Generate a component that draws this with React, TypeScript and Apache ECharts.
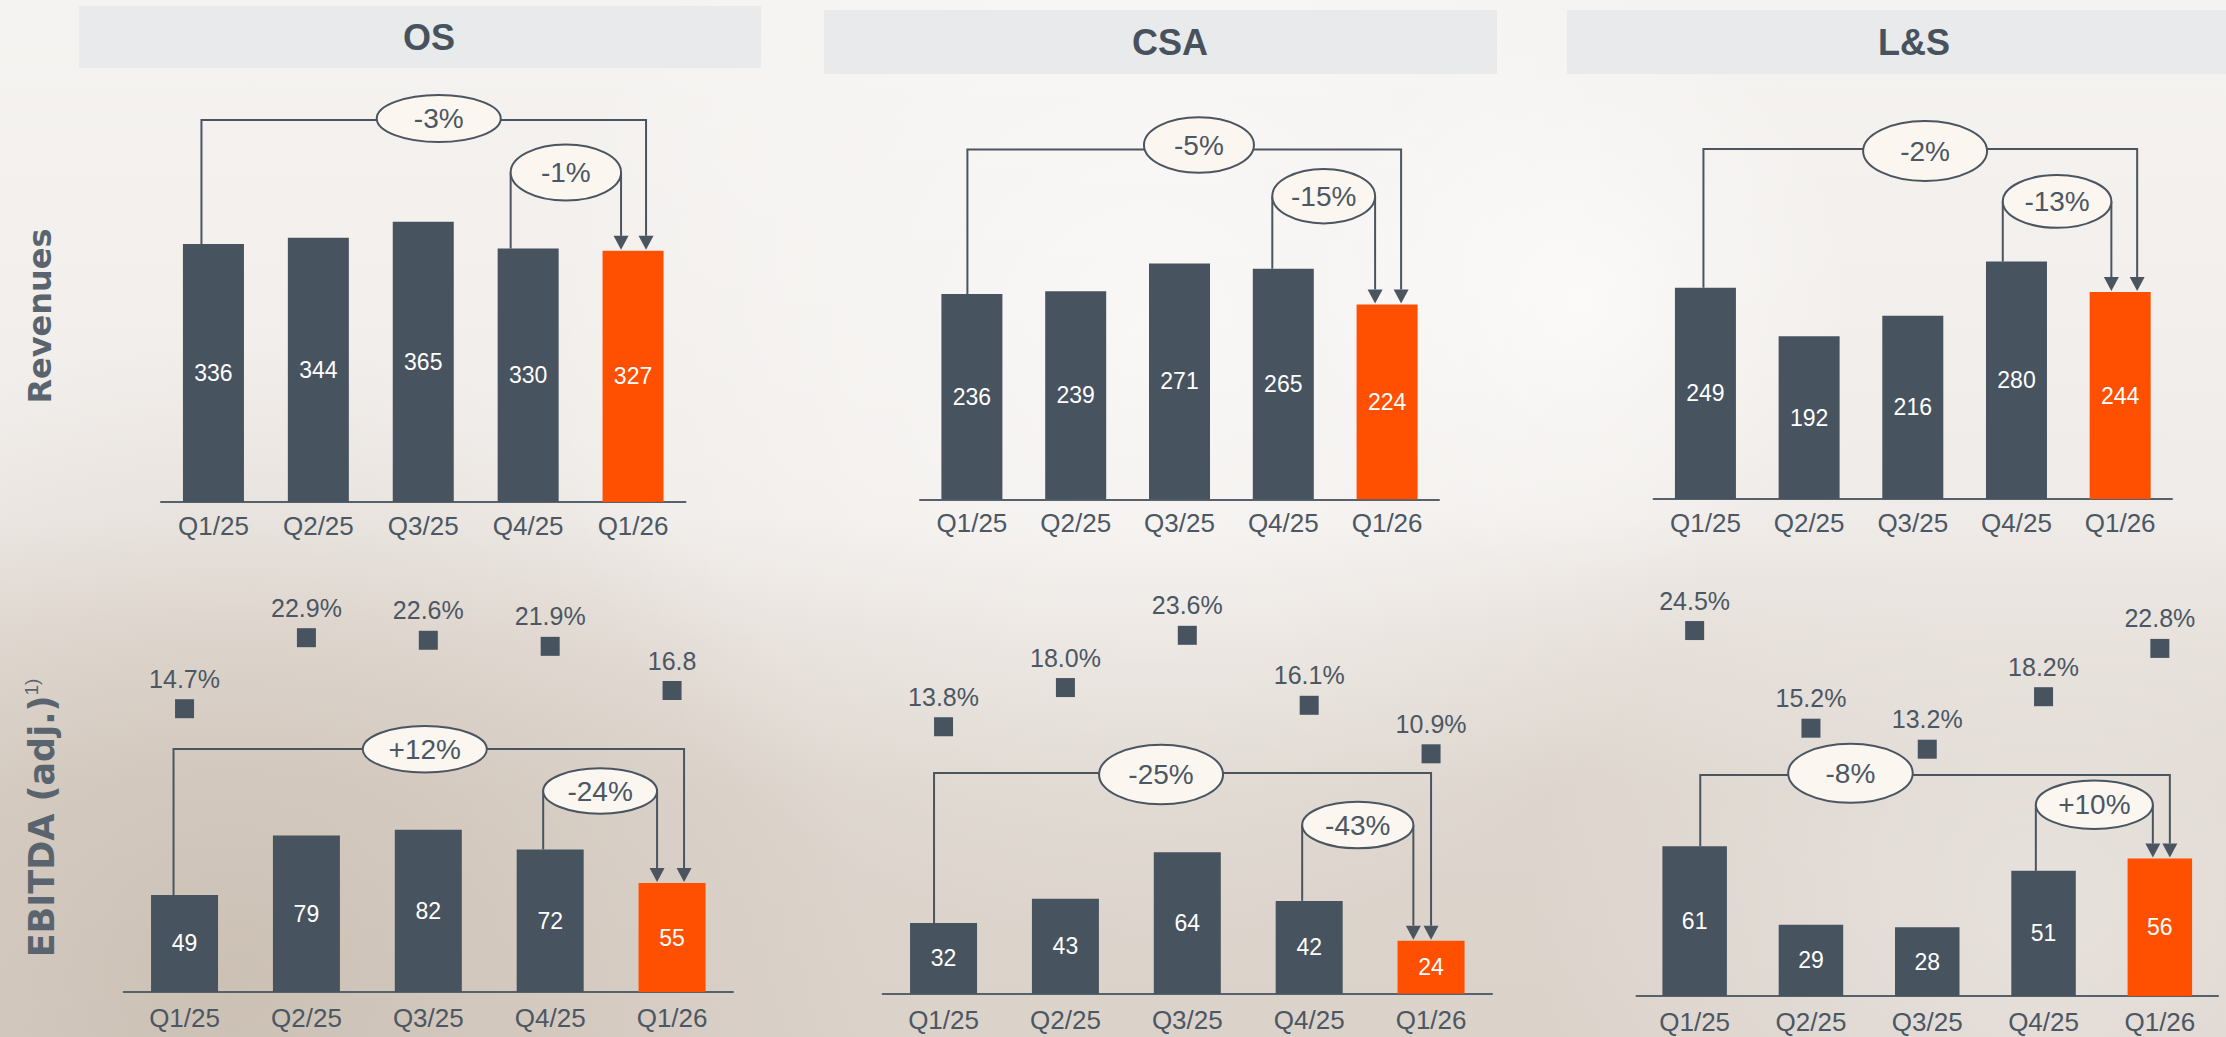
import React, { useEffect, useRef } from "react";
import * as echarts from "echarts";

// ---------- data ----------
const CATEGORIES = ["Q1/25", "Q2/25", "Q3/25", "Q4/25", "Q1/26"];
const SEGMENTS = ["OS", "CSA", "L&S"];
const ROW_LABELS = ["Revenues", "EBITDA (adj.)"];
const FOOTNOTE_MARK = "1)";

const OS_REVENUES = [336, 344, 365, 330, 327];
const CSA_REVENUES = [236, 239, 271, 265, 224];
const LS_REVENUES = [249, 192, 216, 280, 244];

const OS_EBITDA = [49, 79, 82, 72, 55];
const CSA_EBITDA = [32, 43, 64, 42, 24];
const LS_EBITDA = [61, 29, 28, 51, 56];

const OS_MARGIN = [14.7, 22.9, 22.6, 21.9, 16.8];
const CSA_MARGIN = [13.8, 18.0, 23.6, 16.1, 10.9];
const LS_MARGIN = [24.5, 15.2, 13.2, 18.2, 22.8];
const OS_MARGIN_LABELS = ["14.7%", "22.9%", "22.6%", "21.9%", "16.8"];
const CSA_MARGIN_LABELS = ["13.8%", "18.0%", "23.6%", "16.1%", "10.9%"];
const LS_MARGIN_LABELS = ["24.5%", "15.2%", "13.2%", "18.2%", "22.8%"];

// change bubbles: [Q1/25 -> Q1/26, Q4/25 -> Q1/26]
const BRACKET_PAIRS = [
  [0, 4],
  [3, 4],
];
const OS_REV_CHANGES = ["-3%", "-1%"];
const CSA_REV_CHANGES = ["-5%", "-15%"];
const LS_REV_CHANGES = ["-2%", "-13%"];
const OS_EBITDA_CHANGES = ["+12%", "-24%"];
const CSA_EBITDA_CHANGES = ["-25%", "-43%"];
const LS_EBITDA_CHANGES = ["-8%", "+10%"];

// ---------- styles / layout ----------
const FONT = "'Liberation Sans', Arial, sans-serif";
const SLATE = "#47535f";
const ORANGE = "#fe5000";
const TEXT = "#4b5763";
const LINE = "#4a5560";
const BUBBLE = "#fcf6f1";

const REV_TOP = 80;
const EB_TOP = 560;

const REV_LAYOUT = [
  {
    left: 161, width: 524.5, bottom: 502, scale: 0.768, barWidth: 61,
    large: { dx1: -12, dx2: 13, lineY: 120, ecx: 15, ecy: 118.5, rx: 62, ry: 23.5 },
    small: { dx1: -17.5, dx2: -12, cy: 172.5, ry: 28 },
  },
  {
    left: 920, width: 519, bottom: 499.3, scale: 0.87, barWidth: 61,
    large: { dx1: -4.5, dx2: 14, lineY: 149.5, ecx: 14.7, ecy: 145, rx: 55, ry: 27.7 },
    small: { dx1: -11, dx2: -12, cy: 196.2, ry: 27.2 },
  },
  {
    left: 1653.6, width: 518.4, bottom: 499, scale: 0.848, barWidth: 61,
    large: { dx1: -2, dx2: 17, lineY: 149, ecx: 4.8, ecy: 151, rx: 62, ry: 30 },
    small: { dx1: -13.7, dx2: -8.8, cy: 201.4, ry: 26.4 },
  },
];

const EB_LAYOUT = [
  {
    left: 123.6, width: 609.4, bottom: 992, scale: 1.98, barWidth: 67,
    mZero: 836, mScale: 8.66,
    large: { dx1: -11, dx2: 12, lineY: 749, ecx: -4, ecy: 749.2, rx: 62, ry: 23.2 },
    small: { dx1: -7, dx2: -15, cy: 791, ry: 22.7 },
  },
  {
    left: 882.6, width: 609.4, bottom: 993.7, scale: 2.21, barWidth: 67,
    mZero: 855.5, mScale: 9.33,
    large: { dx1: -9.5, dx2: 0, lineY: 773, ecx: -21.5, ecy: 774.5, rx: 62, ry: 29.8 },
    small: { dx1: -7, dx2: -17.7, cy: 825, ry: 23.3 },
  },
  {
    left: 1636.5, width: 581.5, bottom: 996, scale: 2.454, barWidth: 64.5,
    mZero: 887.8, mScale: 10.5,
    large: { dx1: 5.6, dx2: 10, lineY: 775, ecx: -84.6, ecy: 773.2, rx: 62.3, ry: 29.5 },
    small: { dx1: -7.7, dx2: -7, cy: 804.7, ry: 24.3 },
  },
];

function buildOption() {
  const grids: any[] = [];
  const xAxes: any[] = [];
  const yAxes: any[] = [];
  const series: any[] = [];

  const addPanel = (
    layout: any,
    top: number,
    labelMargin: number,
    labelLineHeight: number,
    values: number[],
    changes: string[],
    margin?: number[],
    marginLabels?: string[]
  ) => {
    const gi = grids.length;
    const height = layout.bottom - top;
    grids.push({ left: layout.left, top, width: layout.width, height, containLabel: false });
    xAxes.push({
      gridIndex: gi,
      type: "category",
      data: CATEGORIES,
      axisLine: { onZero: false, lineStyle: { color: "#56616b", width: 2 } },
      axisTick: { show: false },
      splitLine: { show: false },
      axisLabel: {
        fontSize: 26, color: TEXT, margin: labelMargin, fontFamily: FONT,
        lineHeight: labelLineHeight,
      },
    });
    const yi = yAxes.length;
    yAxes.push({
      gridIndex: gi, type: "value", min: 0, max: height / layout.scale,
      show: false, splitLine: { show: false },
    });
    series.push({
      type: "bar",
      xAxisIndex: gi,
      yAxisIndex: yi,
      barWidth: layout.barWidth,
      z: 3,
      data: values.map((v, i) => ({
        value: v,
        itemStyle: { color: i === values.length - 1 ? ORANGE : SLATE },
      })),
      label: { show: true, position: "inside", color: "#ffffff", fontSize: 23, fontFamily: FONT },
    });
    if (margin && marginLabels) {
      const myi = yAxes.length;
      yAxes.push({
        gridIndex: gi, type: "value",
        min: -(layout.bottom - layout.mZero) / layout.mScale,
        max: (layout.mZero - top) / layout.mScale,
        show: false, splitLine: { show: false },
      });
      series.push({
        type: "scatter",
        xAxisIndex: gi,
        yAxisIndex: myi,
        symbol: "rect",
        symbolSize: 19,
        itemStyle: { color: SLATE, opacity: 1 },
        data: margin,
        z: 4,
        label: {
          show: true,
          position: "top",
          distance: 8,
          fontSize: 25,
          color: TEXT,
          opacity: 1,
          fontFamily: FONT,
          formatter: (p: any) => marginLabels[p.dataIndex],
        },
      });
    }
    series.push({
      type: "custom",
      xAxisIndex: gi,
      yAxisIndex: yi,
      z: 6,
      silent: true,
      data: BRACKET_PAIRS,
      renderItem: (params: any, api: any) => {
        const [from, to] = BRACKET_PAIRS[params.dataIndex];
        const isLarge = params.dataIndex === 0;
        const spec = isLarge ? layout.large : layout.small;
        const pFrom = api.coord([from, values[from]]);
        const pTo = api.coord([to, values[to]]);
        const x1 = pFrom[0] + spec.dx1;
        const x2 = pTo[0] + spec.dx2;
        const tipY = pTo[1] - 1;
        const baseY = tipY - 14;
        const ls = { stroke: LINE, lineWidth: 2, fill: "none" };
        const children: any[] = [];
        let cx: number, cy: number, rx: number, ry: number;
        if (isLarge) {
          children.push({
            type: "polyline",
            shape: { points: [[x1, pFrom[1]], [x1, spec.lineY], [x2, spec.lineY], [x2, baseY]] },
            style: ls,
          });
          cx = (x1 + x2) / 2 + spec.ecx;
          cy = spec.ecy;
          rx = spec.rx;
          ry = spec.ry;
        } else {
          cy = spec.cy;
          cx = (x1 + x2) / 2;
          rx = (x2 - x1) / 2;
          ry = spec.ry;
          children.push({ type: "polyline", shape: { points: [[x1, pFrom[1]], [x1, cy]] }, style: ls });
          children.push({ type: "polyline", shape: { points: [[x2, cy], [x2, baseY]] }, style: ls });
        }
        children.push({
          type: "polygon",
          shape: { points: [[x2 - 7.5, baseY], [x2 + 7.5, baseY], [x2, tipY]] },
          style: { fill: LINE },
        });
        children.push({
          type: "ellipse",
          shape: { cx, cy, rx, ry },
          style: { fill: BUBBLE, stroke: LINE, lineWidth: 2 },
        });
        children.push({
          type: "text",
          style: {
            text: changes[params.dataIndex],
            x: cx,
            y: cy,
            align: "center",
            verticalAlign: "middle",
            fontSize: 28,
            fontFamily: FONT,
            fill: TEXT,
          },
        });
        return { type: "group", children };
      },
    });
  };

  const revValues = [OS_REVENUES, CSA_REVENUES, LS_REVENUES];
  const revChanges = [OS_REV_CHANGES, CSA_REV_CHANGES, LS_REV_CHANGES];
  const ebValues = [OS_EBITDA, CSA_EBITDA, LS_EBITDA];
  const ebChanges = [OS_EBITDA_CHANGES, CSA_EBITDA_CHANGES, LS_EBITDA_CHANGES];
  const margins = [OS_MARGIN, CSA_MARGIN, LS_MARGIN];
  const marginLabels = [OS_MARGIN_LABELS, CSA_MARGIN_LABELS, LS_MARGIN_LABELS];

  for (let i = 0; i < 3; i++) {
    addPanel(REV_LAYOUT[i], REV_TOP, 11, 26, revValues[i], revChanges[i]);
  }
  for (let i = 0; i < 3; i++) {
    addPanel(EB_LAYOUT[i], EB_TOP, 15, 22, ebValues[i], ebChanges[i], margins[i], marginLabels[i]);
  }

  const headerBoxes = [
    { x: 79, y: 6, w: 682, h: 62, tx: 429, ty: 37.5 },
    { x: 824, y: 10, w: 673, h: 64, tx: 1170, ty: 42.5 },
    { x: 1567, y: 10, w: 680, h: 64, tx: 1914, ty: 42.5 },
  ];

  const glow = (cx: number, cy: number, r: number, rgb: string, a: number, z: number) => ({
    type: "circle",
    z,
    silent: true,
    shape: { cx, cy, r },
    style: {
      fill: new echarts.graphic.RadialGradient(0.5, 0.5, 0.5, [
        { offset: 0, color: `rgba(${rgb},${a})` },
        { offset: 1, color: `rgba(${rgb},0)` },
      ]),
    },
  });

  const graphic: any[] = [
    {
      type: "rect",
      z: -100,
      silent: true,
      shape: { x: 0, y: 0, width: 2226, height: 1037 },
      style: {
        fill: new echarts.graphic.LinearGradient(0, 0, 0, 1, [
          { offset: 0, color: "#f5f3f1" },
          { offset: 0.5, color: "#f0ece9" },
          { offset: 0.62, color: "#e6dfd9" },
          { offset: 0.76, color: "#ddd5cd" },
          { offset: 1, color: "#dbd2ca" },
        ]),
      },
    },
    glow(230, 980, 640, "192,178,163", 0.55, -99),
    glow(2050, 900, 520, "236,231,228", 0.7, -98),
    glow(1150, 330, 620, "255,255,255", 0.55, -97),
    glow(1580, 300, 280, "255,255,255", 0.6, -96),
  ];

  headerBoxes.forEach((b, i) => {
    graphic.push({
      type: "rect",
      z: 1,
      silent: true,
      shape: { x: b.x, y: b.y, width: b.w, height: b.h },
      style: { fill: "#e9eaeb" },
    });
    graphic.push({
      type: "text",
      z: 2,
      silent: true,
      x: b.tx,
      y: b.ty,
      style: {
        text: SEGMENTS[i],
        align: "center",
        verticalAlign: "middle",
        fontSize: 36,
        fontWeight: "bold",
        fontFamily: FONT,
        fill: "#47525d",
      },
    });
  });

  const ROW_FONT = "'DejaVu Sans', sans-serif";
  const ROW_COLOR = "#59646e";
  graphic.push({
    type: "text",
    z: 2,
    silent: true,
    x: 40,
    y: 316,
    rotation: Math.PI / 2,
    style: {
      text: ROW_LABELS[0],
      align: "center",
      verticalAlign: "middle",
      fontSize: 32,
      fontWeight: "bold",
      fontFamily: ROW_FONT,
      fill: ROW_COLOR,
    },
  });
  graphic.push({
    type: "text",
    z: 2,
    silent: true,
    x: 42,
    y: 818,
    rotation: Math.PI / 2,
    style: {
      text: `{a|${ROW_LABELS[1]}}{b|${FOOTNOTE_MARK}}`,
      align: "center",
      verticalAlign: "middle",
      rich: {
        a: {
          fontSize: 35,
          fontWeight: "bold",
          fontFamily: ROW_FONT,
          fill: ROW_COLOR,
          color: ROW_COLOR,
          lineHeight: 40,
        },
        b: {
          fontSize: 19,
          fontFamily: FONT,
          fill: ROW_COLOR,
          color: ROW_COLOR,
          verticalAlign: "top",
          lineHeight: 40,
        },
      },
    },
  });

  return {
    animation: false,
    backgroundColor: "transparent",
    grid: grids,
    xAxis: xAxes,
    yAxis: yAxes,
    series,
    graphic,
  };
}

export default function App() {
  const ref = useRef<HTMLDivElement>(null);
  useEffect(() => {
    document.body.style.margin = "0";
    if (!ref.current) return;
    const chart = echarts.init(ref.current, undefined, { renderer: "svg" });
    chart.setOption(buildOption() as any);
    return () => chart.dispose();
  }, []);
  return (
    <div
      ref={ref}
      style={{ position: "absolute", left: 0, top: 0, width: 2226, height: 1037 }}
    />
  );
}
